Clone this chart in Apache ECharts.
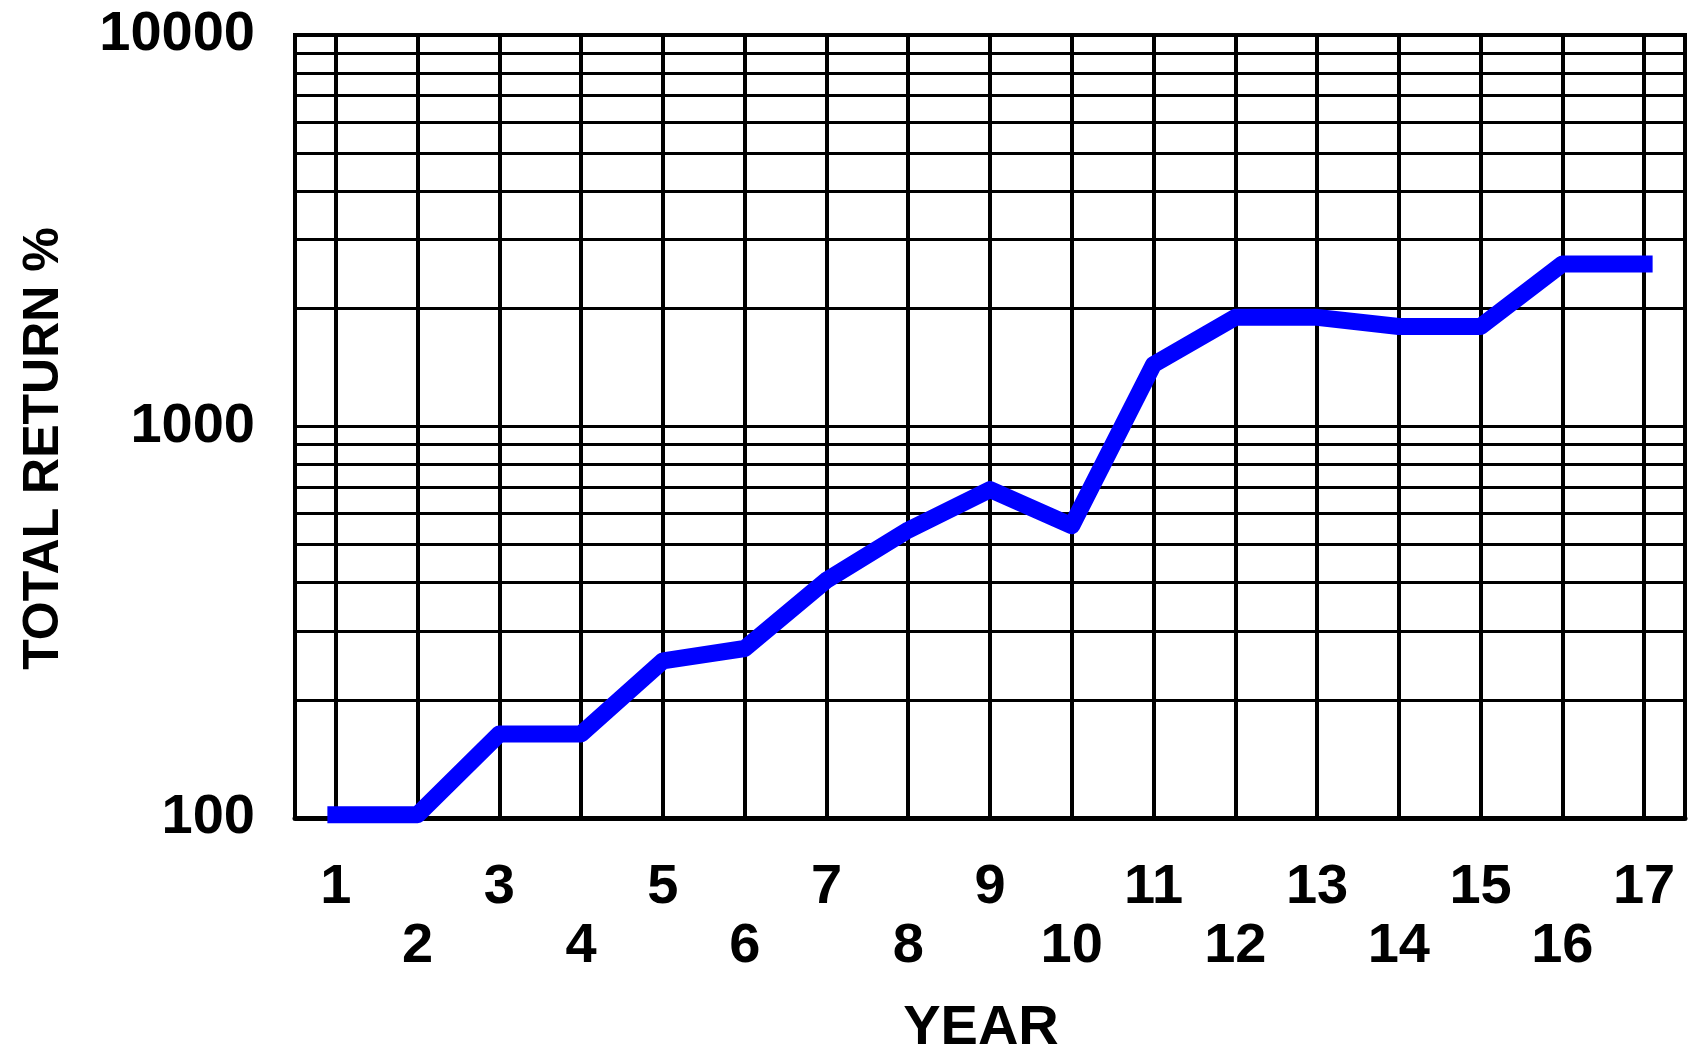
<!DOCTYPE html>
<html>
<head>
<meta charset="utf-8">
<script src="https://cdn.jsdelivr.net/npm/echarts@6/dist/echarts.min.js"></script>
<style>
html, body { margin: 0; padding: 0; background: #ffffff; }
#chart { width: 1700px; height: 1052px; }
</style>
</head>
<body>
<div id="chart"></div>
<script>
// ---- data ----
const years = ['1','2','3','4','5','6','7','8','9','10','11','12','13','14','15','16','17'];
const totalReturn = [102, 102, 164, 164, 252, 271, 405, 544, 690, 558, 1440, 1900, 1900, 1800, 1800, 2600, 2600];
const minorGridValues = [200, 300, 400, 500, 600, 700, 800, 900, 2000, 3000, 4000, 5000, 6000, 7000, 8000, 9000];
const yMin = 100;
const yMax = 10000;
const xAxisTitle = 'YEAR';
const yAxisTitle = 'TOTAL RETURN %';

// ---- chart ----
const FONT = '"Liberation Sans", Arial, sans-serif';
const chart = echarts.init(document.getElementById('chart'), null, { renderer: 'canvas' });

const option = {
  animation: false,
  backgroundColor: '#ffffff',
  grid: {
    left: 295, right: 15, top: 35, bottom: 234,
    show: true, borderColor: '#000000', borderWidth: 4, backgroundColor: 'transparent',
    outerBoundsMode: 'none'
  },
  xAxis: {
    type: 'category',
    data: years,
    boundaryGap: true,
    axisLine: { show: true, lineStyle: { color: '#000000', width: 5 } },
    axisTick: { show: false },
    axisLabel: {
      interval: 0, hideOverlap: false, margin: 40,
      color: '#000000', fontFamily: FONT, fontSize: 56, fontWeight: 'bold', lineHeight: 59,
      formatter: (v, i) => (i % 2 === 0 ? v : '\n' + v)
    },
    splitLine: { show: true, interval: 0, alignWithLabel: true, lineStyle: { color: '#000000', width: 4 } },
    name: xAxisTitle,
    nameLocation: 'middle',
    nameGap: 183,
    nameMoveOverlap: false,
    nameTextStyle: { color: '#000000', fontFamily: FONT, fontSize: 56, fontWeight: 'bold', padding: [0, 18, 0, 0] }
  },
  yAxis: {
    type: 'log',
    logBase: 10,
    min: yMin,
    max: yMax,
    axisLine: { show: false },
    axisTick: { show: false },
    axisLabel: {
      margin: 40, color: '#000000', fontFamily: FONT, fontSize: 56, fontWeight: 'bold',
      formatter: (v) => String(Math.round(v))
    },
    splitLine: { show: true, lineStyle: { color: '#000000', width: 3 } },
    name: yAxisTitle,
    nameLocation: 'middle',
    nameRotate: 90,
    nameGap: 226,
    nameMoveOverlap: false,
    nameTextStyle: { color: '#000000', fontFamily: FONT, fontSize: 50, fontWeight: 'bold', padding: [0, 44, 0, 0] }
  },
  series: [{
    type: 'line',
    data: totalReturn,
    symbol: 'none',
    z: 3,
    lineStyle: { color: '#0000ff', width: 17, cap: 'square', join: 'round' },
    markLine: {
      silent: true,
      symbol: 'none',
      z: 1,
      animation: false,
      label: { show: false },
      lineStyle: { color: '#000000', width: 3, type: 'solid' },
      emphasis: { disabled: true },
      data: minorGridValues.map(v => ({ yAxis: v }))
    }
  }]
};
chart.setOption(option);
</script>
</body>
</html>
